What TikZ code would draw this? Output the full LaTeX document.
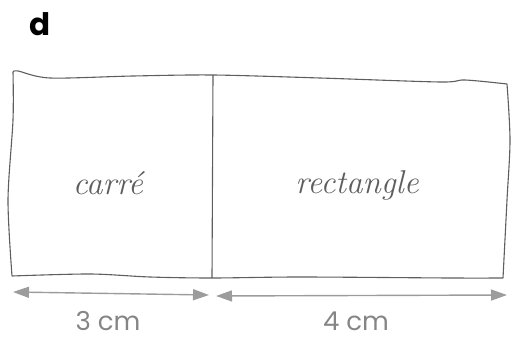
\documentclass[tikz,border=0pt]{standalone}
\usepackage{fontspec}
\usepackage{tikz}
\usetikzlibrary{arrows.meta, positioning}
\newfontfamily\headfont{Poppins}
\definecolor{mPencil}{HTML}{5E5E5E}
\definecolor{mArrow}{HTML}{9C9C9C}

\begin{document}
\begin{tikzpicture}[x=1pt, y=-1pt,
      edge/.style={draw=mPencil, line width=1.1pt, line join=round},
      dim/.style={draw=mArrow, line width=1.4pt,
        {Triangle[length=16pt, width=11pt]}-{Triangle[length=16pt, width=11pt]}},
      hand/.style={text=mPencil, font=\fontsize{33}{33}\selectfont\itshape},
      meas/.style={text=mArrow!85!black, font=\headfont\fontsize{26}{26}\selectfont}]
    \useasboundingbox (0,0) rectangle (516,339);
    % corners of the strip
    \coordinate (tl) at (13,72);
    \coordinate (tm) at (213,75);
    \coordinate (tr) at (507,84);
    \coordinate (bl) at (12,276);
    \coordinate (bm) at (212,278);
    \coordinate (br) at (503,278);
    % hand drawn outline
    \draw[edge] plot[smooth, tension=0.5] coordinates {(13,72) (18,71) (50,78) (133,76) (213,75) (320,78) (440,82) (465,80) (507,84)};
    \draw[edge] plot[smooth, tension=0.5] coordinates {(507,84) (510,140) (507,200) (503,278)};
    \draw[edge] plot[smooth, tension=0.5] coordinates {(503,278) (450,278) (300,277) (212,278) (150,277) (90,274) (12,276)};
    \draw[edge] plot[smooth, tension=0.5] coordinates {(12,276) (8,200) (13,120) (13,72)};
    \draw[edge] (tm) -- (bm);
    % dimension arrows
    \coordinate (al) at (13,292);
    \coordinate (am) at (209,295);
    \coordinate (bml) at (216,296);
    \coordinate (ar) at (507,295);
    \draw[dim] (al) -- (am);
    \draw[dim] (bml) -- (ar);
    % labels
    \node[font=\headfont\bfseries\fontsize{31}{31}\selectfont] (title) at (40,24) {d};
    \node[hand] (square) at (108,183) {carré};
    \node[hand] (rect) at (357,185) {rectangle};
    \node[meas] (three) at (108,321) {3 cm};
    \node[meas] (four) at (356,321) {4 cm};
  \end{tikzpicture}
\end{document}
